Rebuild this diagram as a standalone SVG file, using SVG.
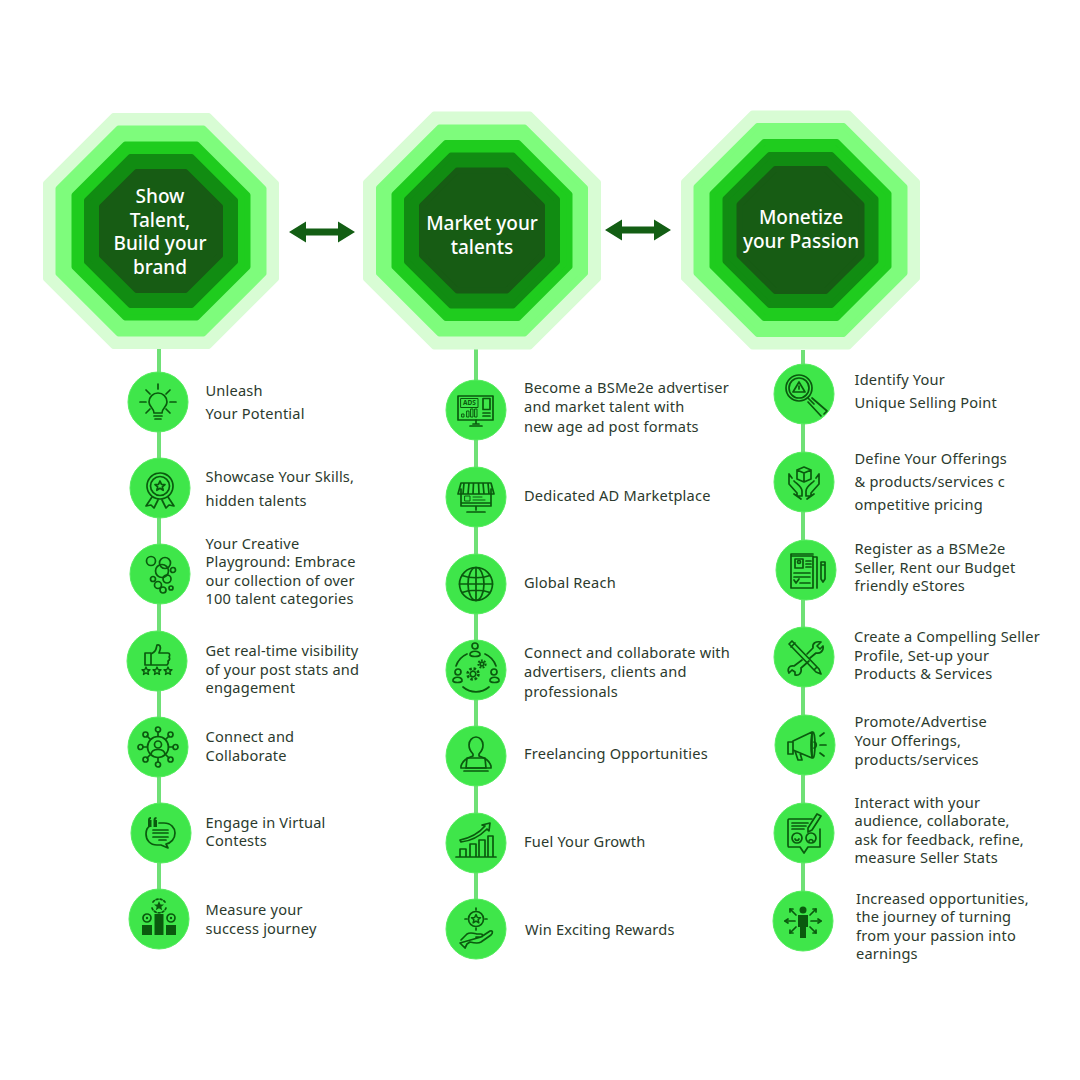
<svg xmlns="http://www.w3.org/2000/svg" xmlns:xlink="http://www.w3.org/1999/xlink" width="1080" height="1080" viewBox="0 0 1080 1080">
<style>
text{font-family:"Noto Sans","Open Sans","Liberation Sans",sans-serif}
.t{font-size:14.6px;fill:#2b3a2d;letter-spacing:.2px}
.h{font-size:19px;font-weight:500;fill:#fff;text-anchor:middle}
.c{fill:#3fe64a;stroke:#55ec5e;stroke-width:1}
.i{fill:none;stroke:#0a5a0e;stroke-width:1.700;stroke-linecap:round;stroke-linejoin:round}
.f{fill:#0a5a0e;stroke:none}
.l{stroke:#6fe076;stroke-width:4;fill:none}
#oc{vector-effect:non-scaling-stroke;stroke-width:6;stroke-linejoin:round}
.o1{fill:#d8fcd4;stroke:#d8fcd4}.o2{fill:#7efc7c;stroke:#7efc7c}.o3{fill:#1fcc1e;stroke:#1fcc1e}.o4{fill:#118c12;stroke:#118c12}.o5{fill:#175c14;stroke:#175c14}
.a{fill:#135e14}
</style>
<defs>
<polygon id="oc" points="-0.414,-1 0.414,-1 1,-0.414 1,0.414 0.414,1 -0.414,1 -1,0.414 -1,-0.414"/>
<polygon id="st" points="0,-5 1.500,-1.600 5,-1.500 2.300,.8 3.200,4.300 0,2.300 -3.200,4.300 -2.300,.8 -5,-1.500 -1.500,-1.600"/>
<g id="da"><path d="M-33,0 L-16,-10.500 L-16,-3.500 L16,-3.500 L16,-10.500 L33,0 L16,10.500 L16,3.500 L-16,3.500 L-16,10.500 Z"/></g>
</defs>
<rect width="1080" height="1080" fill="#fff"/>

<g id="connectors">
<path class="l" d="M159,348V920"/>
<path class="l" d="M476,348V930"/>
<path class="l" d="M803,350V921"/>
<use href="#da" class="a" transform="translate(322,232)"/>
<use href="#da" class="a" transform="translate(638,230)"/>
</g>

<g id="hub-1">
<use href="#oc" class="o1" transform="translate(161,231) scale(115)"/><use href="#oc" class="o2" transform="translate(161,231) scale(102.500)"/><use href="#oc" class="o3" transform="translate(161,231) scale(86.500)"/><use href="#oc" class="o4" transform="translate(161,231) scale(74)"/><use href="#oc" class="o5" transform="translate(161,231) scale(59)"/>
<text class="h" x="160" y="203">Show</text><text class="h" x="160" y="227">Talent,</text><text class="h" x="160" y="250">Build your</text><text class="h" x="160" y="274">brand</text>
</g>
<g id="hub-2">
<use href="#oc" class="o1" transform="translate(482,230.500) scale(116)"/><use href="#oc" class="o2" transform="translate(482,230.500) scale(103)"/><use href="#oc" class="o3" transform="translate(482,230.500) scale(87.500)"/><use href="#oc" class="o4" transform="translate(482,230.500) scale(75)"/><use href="#oc" class="o5" transform="translate(482,230.500) scale(60)"/>
<text class="h" x="482" y="230">Market your</text><text class="h" x="482" y="254">talents</text>
</g>
<g id="hub-3">
<use href="#oc" class="o1" transform="translate(800.500,230) scale(116.500)"/><use href="#oc" class="o2" transform="translate(800.500,230) scale(104)"/><use href="#oc" class="o3" transform="translate(800.500,230) scale(88)"/><use href="#oc" class="o4" transform="translate(800.500,230) scale(75)"/><use href="#oc" class="o5" transform="translate(800.500,230) scale(61)"/>
<text class="h" x="801" y="224">Monetize</text><text class="h" x="801" y="248">your Passion</text>
</g>

<g id="n1-1"><circle class="c" cx="158" cy="402" r="30"/>
<g class="i" transform="translate(158,402)" stroke-width="2"><path d="M-4,11C-4,6 -9,5 -9,0A9,9 0 0 1 9,0C9,5 4,6 4,11Z"/><path d="M-4,14H4M-3,17H3M0,-18V-13M-18,0H-12M18,0H12M-12,-12L-8,-8M12,-12L8,-8M-12,11L-8,7M12,11L8,7"/></g>
<text class="t" x="205.500" y="396">Unleash</text><text class="t" x="205.500" y="419">Your Potential</text></g>

<g id="n1-2"><circle class="c" cx="160" cy="488" r="30"/>
<g class="i" transform="translate(160,488)" stroke-width="1.400"><circle cy="-2" r="13" stroke-dasharray="3.500 .6"/><circle cy="-2" r="9.500"/><use href="#st" y="-2"/><path d="M-8,9L-14,18L-9,17L-6,20L-2,12M8,9L14,18L9,17L6,20L2,12"/></g>
<text class="t" x="205.500" y="482">Showcase Your Skills,</text><text class="t" x="205.500" y="506">hidden talents</text></g>

<g id="n1-3"><circle class="c" cx="160" cy="574" r="30"/>
<g class="i" transform="translate(160,574)" stroke-width="1.200"><circle cx="-9" cy="-13" r="4.500"/><circle cx="5" cy="-11" r="5.500"/><circle cx="2" cy="-3" r="6.500"/><circle cx="13" cy="-4" r="2.500"/><circle cx="-7" cy="5" r="2.500"/><circle cx="7" cy="5" r="4"/><circle cx="-2" cy="11" r="3.500"/><circle cx="3" cy="16" r="3"/><circle cx="11" cy="14" r="2"/></g>
<text class="t" x="205.500" y="549">Your Creative</text><text class="t" x="205.500" y="567">Playground: Embrace</text><text class="t" x="205.500" y="586">our collection of over</text><text class="t" x="205.500" y="604">100 talent categories</text></g>

<g id="n1-4"><circle class="c" cx="157" cy="661" r="30"/>
<g class="i" transform="translate(157,661)"><path d="M-12,-8H-6V4H-12ZM-6,-7C-1,-9 -1,-12 0,-16C3,-17 4,-14 3,-11L2,-8H11C13,-8 13,-5 12,-4C13,-3 13,-1 11,0C12,2 11,3 10,4H-6"/><use href="#st" transform="translate(-11,10) scale(.8)"/><use href="#st" transform="translate(0,10) scale(.8)"/><use href="#st" transform="translate(11,10) scale(.8)"/></g>
<text class="t" x="205.500" y="656">Get real-time visibility</text><text class="t" x="205.500" y="675">of your post stats and</text><text class="t" x="205.500" y="693">engagement</text></g>

<g id="n1-5"><circle class="c" cx="158" cy="747" r="30"/>
<g class="i" transform="translate(158,747)"><circle r="10.500"/><circle cy="-2.500" r="3.500"/><path d="M-7,7C-6,1 6,1 7,7M0,-10.500V-15M0,10.500V15M-10.500,0H-15M10.500,0H15M-7.500,-7.500L-11,-11M7.500,-7.500L11,-11M-7.500,7.500L-11,11M7.500,7.500L11,11"/><circle cy="-17.500" r="2.500"/><circle cy="17.500" r="2.500"/><circle cx="-17.500" r="2.500"/><circle cx="17.500" r="2.500"/><circle cx="-12.500" cy="-12.500" r="2.500"/><circle cx="12.500" cy="-12.500" r="2.500"/><circle cx="-12.500" cy="12.500" r="2.500"/><circle cx="12.500" cy="12.500" r="2.500"/></g>
<text class="t" x="205.500" y="742">Connect and</text><text class="t" x="205.500" y="761">Collaborate</text></g>

<g id="n1-6"><circle class="c" cx="161" cy="833" r="30"/>
<g class="i" transform="translate(161,833)" stroke-width="1.400"><path d="M-2,-10H3C10,-10 14,-5 14,0C14,6 10,10 5,11L7,15L0,12H-4C-11,12 -15,7 -15,1C-15,-3 -13,-6 -11,-7"/><path d="M-8,-3H7M-8,0H7M-8,4H7M-2,7H5"/></g>
<path class="f" d="M148,820a3,3 0 0 1 3,-3v2a1,1 0 0 0 -1,1h1.500v7h-3.500zM153.500,820a3,3 0 0 1 3,-3v2a1,1 0 0 0 -1,1h1.500v7h-3.500z"/>
<text class="t" x="205.500" y="828">Engage in Virtual</text><text class="t" x="205.500" y="846">Contests</text></g>

<g id="n1-7"><circle class="c" cx="159" cy="919" r="30"/>
<g transform="translate(159,919)"><path class="f" d="M-17,6H-7V16H-17ZM-4.500,-5H4.500V16H-4.500ZM7,6H17V16H7Z"/><g class="i" stroke-width="1.300"><circle cx="-12" cy="-1" r="4"/><circle cx="12" cy="-1" r="4"/><path d="M-7,-11A7.500,7.500 0 0 0 7,-11" stroke-dasharray="2 2"/><path d="M-6,-17A7.500,7.500 0 0 1 6,-17" stroke-dasharray="2 2"/></g><circle class="f" cx="-12" cy="-1" r="1.200"/><circle class="f" cx="12" cy="-1" r="1.200"/><use href="#st" class="f" transform="translate(0,-13)"/></g>
<text class="t" x="205.500" y="915">Measure your</text><text class="t" x="205.500" y="934">success journey</text></g>

<g id="n2-1"><circle class="c" cx="476" cy="410" r="30"/>
<g class="i" transform="translate(476,410)"><rect x="-18" y="-14" width="35" height="24"/><rect x="-15" y="-11.500" width="17" height="9" stroke-width="1"/><rect x="7" y="-11.500" width="7" height="11"/><path d="M7,3H14M7,6H14M0,10V14M-6,16H6M-3,14H3"/><path d="M-14,4h2v3h-2zM-9,1h2v6h-2zM-5,-1h2v8h-2zM-1,-1h2v8h-2z" stroke-width="1"/></g>
<text x="463" y="405" font-size="6.500" font-weight="700" fill="#0a5a0e">ADS</text>
<text class="t" x="524" y="393">Become a BSMe2e advertiser</text><text class="t" x="524" y="412">and market talent with</text><text class="t" x="524" y="432">new age ad post formats</text></g>

<g id="n2-2"><circle class="c" cx="476" cy="497" r="30"/>
<g class="i" transform="translate(476,497)"><path d="M-15,-8V9H15V-8M-18,-3L-15,-14H15L18,-3ZM-12,-14L-13,-3M-7,-14L-8,-3M-2.500,-14L-3,-3M2.500,-14L3,-3M7,-14L8,-3M12,-14L13,-3M0,9V13M-9,15H9M-15,6H15"/><rect x="-11" y="-1" width="5" height="5" stroke-width="1"/><path d="M-3,0H6M-3,3H9" stroke-width="1"/></g>
<text class="t" x="524" y="501">Dedicated AD Marketplace</text></g>

<g id="n2-3"><circle class="c" cx="476" cy="584" r="30"/>
<g class="i" transform="translate(476,584)" stroke-width="1.900"><circle r="16.500"/><ellipse rx="8" ry="16.500"/><path d="M0,-16.500V16.500M-16.500,0H16.500M-14,-8.500C-6,-5.500 6,-5.500 14,-8.500M-14,8.500C-6,5.500 6,5.500 14,8.500"/></g>
<text class="t" x="524" y="588">Global Reach</text></g>

<g id="n2-4"><circle class="c" cx="476" cy="670" r="30"/>
<g class="i" transform="translate(476,670)" stroke-width="1.400"><circle cx="-1" cy="-24" r="3"/><path d="M-6,-15C-7,-20 5,-20 4,-15C3,-13 -5,-13 -6,-15Z"/><circle cx="-18" cy="2" r="3"/><path d="M-23,11C-24,6 -13,6 -14,11C-15,13 -22,13 -23,11Z"/><circle cx="18" cy="2" r="3"/><path d="M14,11C13,6 24,6 23,11C22,13 15,13 14,11Z"/><path d="M-20,-4A20,20 0 0 1 -9,-16M9,-16A20,20 0 0 1 20,-4M-13,17A20,20 0 0 0 13,17"/><circle cx="-3" cy="4" r="2.800"/><circle cx="-3" cy="4" r="5.500" stroke-width="2.500" stroke-dasharray="2.500 1.800" stroke-linecap="butt"/><circle cx="6" cy="-6" r="1.800"/><circle cx="6" cy="-6" r="3.600" stroke-width="2" stroke-dasharray="1.800 1.300" stroke-linecap="butt"/></g>
<text class="t" x="524" y="658">Connect and collaborate with</text><text class="t" x="524" y="677">advertisers, clients and</text><text class="t" x="524" y="697">professionals</text></g>

<g id="n2-5"><circle class="c" cx="476" cy="756" r="30"/>
<g class="i" transform="translate(476,756)"><path d="M-7,-11A7,8 0 1 1 7,-11C7,-7 5,-4 3,-2V0C9,2 13,4 15,10V12H-15V10C-13,4 -9,2 -3,0V-2C-5,-4 -7,-7 -7,-11Z"/><path d="M-9,2H9L10,12H-10ZM-12,15H12"/></g>
<text class="t" x="524" y="759">Freelancing Opportunities</text></g>

<g id="n2-6"><circle class="c" cx="476" cy="843" r="30"/>
<g class="i" transform="translate(476,843)"><path d="M-20,14H20M-16,14V6H-10V14M-6,14V1H0V14M3,14V-3H9V14M12,14V-7H17V14"/><path d="M-16,-3C-6,-5 3,-10 9,-17L6,-18L14,-20L13,-12L11,-14C5,-8 -5,-2 -15,-1Z"/></g>
<text class="t" x="524" y="847">Fuel Your Growth</text></g>

<g id="n2-7"><circle class="c" cx="476" cy="929" r="30"/>
<g class="i" transform="translate(476,929)"><circle cy="-10" r="7.500"/><use href="#st" transform="translate(0,-10) scale(.9)"/><path d="M0,-21V-19M0,-1V1M-11,-10H-9M9,-10H11"/><path d="M-15,11L-9,5C-6,3 -3,4 1,5H5C7,5 7,8 5,8H0M5,8L14,2C17,1 17,4 15,6L5,13C2,15 -2,14 -6,13L-9,15L-11,19L-16,14Z"/></g>
<text class="t" x="525" y="935">Win Exciting Rewards</text></g>

<g id="n3-1"><circle class="c" cx="804" cy="394" r="30"/>
<g class="i" transform="translate(804,394)"><circle cx="-5" cy="-6" r="13"/><circle cx="-5" cy="-6" r="10"/><path d="M-5,-12L1,-2H-11ZM-5,-8V-5"/><path d="M4,4L10,10M8,4L23,17L20,20M4,8L17,22"/></g>
<text class="t" x="854.500" y="385">Identify Your</text><text class="t" x="854.500" y="408">Unique Selling Point</text></g>

<g id="n3-2"><circle class="c" cx="804" cy="482" r="30"/>
<g class="i" transform="translate(804,482)"><path d="M0,-15L7,-12V-3L0,0L-7,-3V-12ZM-7,-12L0,-9L7,-12M0,-9V0"/><path d="M-15,-8V2L-7,11V14H-2V9C-2,5 -7,2 -10,-1M-15,-8L-12,-4M15,-8V2L7,11V14H2V9C2,5 7,2 10,-1M15,-8L12,-4M-10,12L-3,17M10,12L3,17"/></g>
<text class="t" x="854.500" y="464">Define Your Offerings</text><text class="t" x="854.500" y="487">&amp; products/services c</text><text class="t" x="854.500" y="510">ompetitive pricing</text></g>

<g id="n3-3"><circle class="c" cx="806" cy="570" r="30"/>
<g class="i" transform="translate(806,570)"><path d="M-15,-14H7V18H-15ZM7,-13H11V18M-15,-14V-16H7"/><rect x="-11" y="-11" width="8" height="9"/><circle cx="-7" cy="-8" r="1.500"/><path d="M0,-9H5M0,-6H5M0,-3H5M-12,3H4M-12,7H4M-6,13H4M-12,10L-10,13L-7,9"/><path d="M15,-8H19V9L17,12L15,9ZM15,-5H19"/></g>
<text class="t" x="854.500" y="554">Register as a BSMe2e</text><text class="t" x="854.500" y="573">Seller, Rent our Budget</text><text class="t" x="854.500" y="591">friendly eStores</text></g>

<g id="n3-4"><circle class="c" cx="804" cy="657" r="30"/>
<g class="i" transform="translate(804,657)"><path d="M-15,-13L-12,-16L15,12L17,17L12,15ZM-13,-10L-9,-14M10,13L13,10"/><path d="M-2,3L-10,9C-15,8 -17,12 -15,16L-12,13L-9,15L-9,18C-5,19 -2,16 -3,11L5,4M3,-3L9,-9C8,-14 12,-16 17,-15L13,-11L16,-8L19,-11C20,-6 16,-3 12,-4L6,1"/></g>
<text class="t" x="854" y="642">Create a Compelling Seller</text><text class="t" x="854" y="661">Profile, Set-up your</text><text class="t" x="854" y="679">Products &amp; Services</text></g>

<g id="n3-5"><circle class="c" cx="805" cy="745" r="30"/>
<g class="i" transform="translate(805,745)" stroke-width="1.800"><path d="M-17,-3H-12V9H-17ZM-12,-4L7,-13V13L-12,5ZM-10,6L-7,15H-3L-5,8"/><ellipse cx="8" cy="0" rx="2" ry="13"/><path d="M9,-3C12,-3 12,3 9,3M15,-9L19,-12M15,0H21M15,8L19,11"/></g>
<text class="t" x="854.500" y="727">Promote/Advertise</text><text class="t" x="854.500" y="746">Your Offerings,</text><text class="t" x="854.500" y="765">products/services</text></g>

<g id="n3-6"><circle class="c" cx="804" cy="833" r="30"/>
<g class="i" transform="translate(804,833)"><path d="M8,-14H-15C-16,-14 -16,-13 -16,-12V12C-16,13 -16,14 -15,14H-4L0,20L4,14H16V-4"/><path d="M-12,-10H4M-12,-7H2M-12,-4H0"/><circle cx="-7" cy="5" r="5"/><circle cx="7" cy="5" r="5"/><path d="M-9,6C-8,8 -6,8 -5,6M5,8C6,6 8,6 9,8"/><path d="M4,-5L13,-19L17,-17L8,-3L4,-1Z"/></g>
<text class="t" x="854.500" y="808">Interact with your</text><text class="t" x="854.500" y="826">audience, collaborate,</text><text class="t" x="854.500" y="845">ask for feedback, refine,</text><text class="t" x="854.500" y="863">measure Seller Stats</text></g>

<g id="n3-7"><circle class="c" cx="803" cy="921" r="30"/>
<g transform="translate(803,921)"><circle class="f" cy="-11" r="3.500"/><path class="f" d="M-5,-6H5V6H3V17H-3V6H-5Z"/><g class="i"><path d="M-8,0H-18M8,0H18M-7,-6L-13,-12M7,-6L13,-12M-7,6L-13,12M7,6L13,12"/><path d="M-15,-2L-18,0L-15,2M15,-2L18,0L15,2M-13,-9V-12H-10M13,-9V-12H10M-13,9V12H-10M13,9V12H10"/></g></g>
<text class="t" x="856" y="904">Increased opportunities,</text><text class="t" x="856" y="922">the journey of turning</text><text class="t" x="856" y="941">from your passion into</text><text class="t" x="856" y="959">earnings</text></g>
</svg>
